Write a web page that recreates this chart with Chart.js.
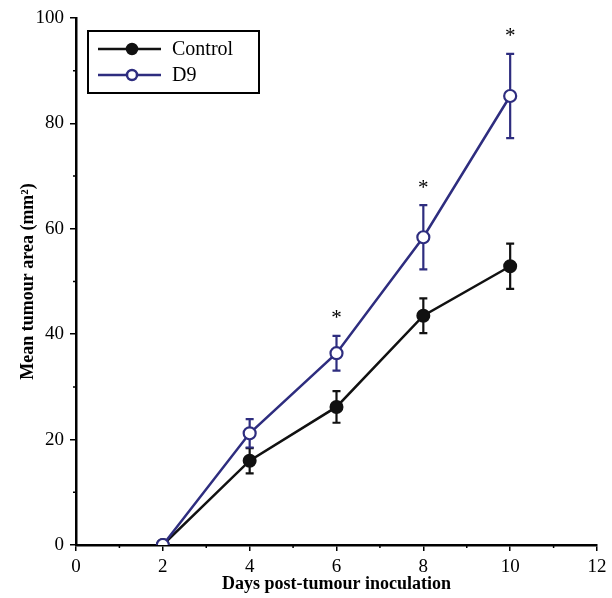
<!DOCTYPE html>
<html>
<head>
<meta charset="utf-8">
<script src="https://cdn.jsdelivr.net/npm/chart.js@4"></script>
<style>
  body { margin: 0; background: #fff; }
</style>
</head>
<body>
<canvas id="tumour-chart" width="612" height="598"></canvas>
<script>
// data
var days = [2, 4, 6, 8, 10];
var controlMean = [0, 16, 26.2, 43.5, 52.9];
var controlErr = [0, 2.4, 3, 3.3, 4.3];
var d9Mean = [0, 21.2, 36.4, 58.4, 85.2];
var d9Err = [0, 2.7, 3.3, 6.1, 8];
var sigDays = [6, 8, 10];
var xTicks = [0, 2, 4, 6, 8, 10, 12];
var yTicks = [0, 20, 40, 60, 80, 100];

var serif = "'Liberation Serif', 'Times New Roman', serif";
var navy = '#2e2d7f';
var black = '#111111';

function toPoints(xs, ys, errs) {
	return xs.map(function(x, i) { return { x: x, y: ys[i], err: errs[i] }; });
}

// error bars under the lines
var errorBars = {
	id: 'errorBars',
	beforeDatasetsDraw: function(chart) {
		var ctx = chart.ctx, y = chart.scales.y, x = chart.scales.x;
		chart.data.datasets.forEach(function(ds) {
			ctx.save();
			ctx.strokeStyle = ds.borderColor;
			ctx.lineWidth = 2.2;
			ds.data.forEach(function(p) {
				if (!p.err) return;
				var px = x.getPixelForValue(p.x);
				var top = y.getPixelForValue(p.y + p.err);
				var bot = y.getPixelForValue(p.y - p.err);
				ctx.beginPath();
				ctx.moveTo(px, top); ctx.lineTo(px, bot);
				ctx.moveTo(px - 4, top); ctx.lineTo(px + 4, top);
				ctx.moveTo(px - 4, bot); ctx.lineTo(px + 4, bot);
				ctx.stroke();
			});
			ctx.restore();
		});
	}
};

// asterisks, minor ticks and the boxed legend
var extras = {
	id: 'extras',
	afterDraw: function(chart) {
		var ctx = chart.ctx, x = chart.scales.x, y = chart.scales.y, area = chart.chartArea;
		ctx.save();

		// significance marks above D9 error bars
		ctx.fillStyle = '#000';
		ctx.font = '21px ' + serif;
		ctx.textAlign = 'center';
		ctx.textBaseline = 'middle';
		sigDays.forEach(function(d) {
			var i = days.indexOf(d);
			var top = y.getPixelForValue(d9Mean[i] + d9Err[i]);
			ctx.fillText('*', x.getPixelForValue(d), top - 17);
		});

		// minor ticks
		ctx.strokeStyle = '#000';
		ctx.lineWidth = 1.5;
		ctx.beginPath();
		for (var i = 0; i < xTicks.length - 1; i++) {
			var mx = x.getPixelForValue((xTicks[i] + xTicks[i + 1]) / 2);
			ctx.moveTo(mx, area.bottom); ctx.lineTo(mx, area.bottom + 3);
		}
		for (var j = 0; j < yTicks.length - 1; j++) {
			var my = y.getPixelForValue((yTicks[j] + yTicks[j + 1]) / 2);
			ctx.moveTo(area.left, my); ctx.lineTo(area.left - 3, my);
		}
		ctx.stroke();

		// legend box
		var bx = area.left + 12, by = area.top + 13, bw = 171, bh = 62;
		ctx.lineWidth = 2;
		ctx.strokeStyle = '#000';
		ctx.strokeRect(bx, by, bw, bh);
		ctx.font = '20px ' + serif;
		ctx.textAlign = 'left';
		chart.data.datasets.forEach(function(ds, k) {
			var ly = by + 18 + k * 26;
			ctx.strokeStyle = ds.borderColor;
			ctx.lineWidth = 2.5;
			ctx.beginPath();
			ctx.moveTo(bx + 10, ly); ctx.lineTo(bx + 73, ly);
			ctx.stroke();
			ctx.beginPath();
			ctx.arc(bx + 44, ly, 5, 0, Math.PI * 2);
			ctx.fillStyle = ds.pointBackgroundColor;
			ctx.fill();
			ctx.strokeStyle = ds.pointBorderColor;
			ctx.stroke();
			ctx.fillStyle = '#000';
			ctx.fillText(ds.label, bx + 84, ly + 1);
		});
		ctx.restore();
	}
};

new Chart(document.getElementById('tumour-chart'), {
	type: 'line',
	data: {
		datasets: [{
			label: 'Control',
			data: toPoints(days, controlMean, controlErr),
			borderColor: black,
			borderWidth: 2.5,
			pointBackgroundColor: black,
			pointBorderColor: black,
			pointBorderWidth: 2,
			pointRadius: 6,
			fill: false,
			order: 2
		}, {
			label: 'D9',
			data: toPoints(days, d9Mean, d9Err),
			borderColor: navy,
			borderWidth: 2.5,
			pointBackgroundColor: '#ffffff',
			pointBorderColor: navy,
			pointBorderWidth: 2.2,
			pointRadius: 6,
			fill: false,
			order: 1
		}]
	},
	options: {
		responsive: false,
		animation: false,
		layout: { padding: { top: 18, right: 15, left: 0, bottom: 0 } },
		plugins: {
			legend: { display: false },
			tooltip: { enabled: false }
		},
		scales: {
			x: {
				type: 'linear',
				min: 0, max: 12,
				afterBuildTicks: function(s) { s.ticks = xTicks.map(function(v) { return { value: v }; }); },
				afterFit: function(s) { s.height = 53; },
				border: { display: true, color: '#000', width: 2.5 },
				grid: { drawOnChartArea: false, tickLength: 6, color: '#000', lineWidth: 1.5 },
				ticks: { color: '#000', padding: 5, maxRotation: 0, font: { family: serif, size: 19 } },
				title: {
					display: true,
					text: 'Days post-tumour inoculation',
					color: '#000',
					padding: { top: 0, bottom: 3 },
					font: { family: serif, size: 18, weight: 'bold' }
				}
			},
			y: {
				min: 0, max: 100,
				afterBuildTicks: function(s) { s.ticks = yTicks.map(function(v) { return { value: v }; }); },
				afterFit: function(s) { s.width = 76; },
				border: { display: true, color: '#000', width: 2.5 },
				grid: { drawOnChartArea: false, tickLength: 6, color: '#000', lineWidth: 1.5 },
				ticks: { color: '#000', padding: 6, font: { family: serif, size: 19 } },
				title: {
					display: true,
					text: 'Mean tumour area (mm²)',
					color: '#000',
					padding: { top: 18, bottom: 0 },
					font: { family: serif, size: 18, weight: 'bold' }
				}
			}
		}
	},
	plugins: [errorBars, extras]
});
</script>
</body>
</html>
